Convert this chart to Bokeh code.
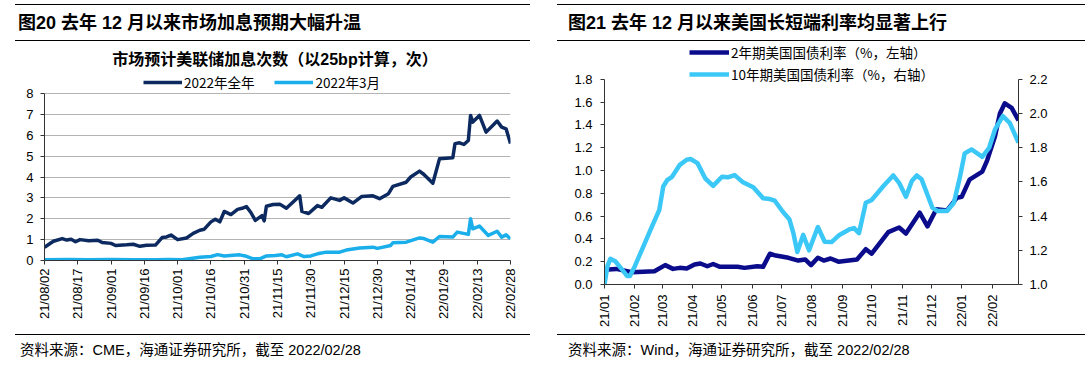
import math
import pandas as pd
from bokeh.plotting import figure
from bokeh.models import (Range1d, LinearAxis, FixedTicker, DatetimeTickFormatter,
                          NumeralTickFormatter, Legend, LegendItem, ColumnDataSource, Div)
from bokeh.layouts import row, column
from bokeh.embed import file_html
from bokeh.resources import INLINE
from bokeh.core.properties import value

# ---------------- data: left chart (CME implied hikes) ----------------
L_TITLE = "图20 去年 12 月以来市场加息预期大幅升温"
L_SUB = "市场预计美联储加息次数（以25bp计算，次）"
L_SOURCE = "资料来源：CME，海通证券研究所，截至 2022/02/28"
L_NAMES = ["2022年全年", "2022年3月"]

L_DATES_ALL = ["2021-08-02", "2021-08-06", "2021-08-10", "2021-08-12", "2021-08-14", "2021-08-16",
               "2021-08-18", "2021-08-22", "2021-08-26", "2021-08-28", "2021-09-01", "2021-09-03",
               "2021-09-08", "2021-09-11", "2021-09-14", "2021-09-17", "2021-09-21", "2021-09-24",
               "2021-09-26", "2021-09-28", "2021-10-01", "2021-10-05", "2021-10-08", "2021-10-11",
               "2021-10-13", "2021-10-16", "2021-10-18", "2021-10-20", "2021-10-22", "2021-10-25",
               "2021-10-28", "2021-10-30", "2021-11-01", "2021-11-03", "2021-11-05", "2021-11-08",
               "2021-11-09", "2021-11-10", "2021-11-13", "2021-11-16", "2021-11-19", "2021-11-23",
               "2021-11-25", "2021-11-26", "2021-11-29", "2021-12-03", "2021-12-05", "2021-12-09",
               "2021-12-13", "2021-12-15", "2021-12-19", "2021-12-23", "2021-12-28", "2021-12-31",
               "2022-01-04", "2022-01-06", "2022-01-12", "2022-01-14", "2022-01-18", "2022-01-20",
               "2022-01-24", "2022-01-27", "2022-02-02", "2022-02-03", "2022-02-05", "2022-02-07",
               "2022-02-09", "2022-02-10", "2022-02-11", "2022-02-14", "2022-02-17", "2022-02-22",
               "2022-02-24", "2022-02-26", "2022-02-28"]
L_ALL = [0.63, 0.92, 1.05, 0.98, 1.02, 0.90, 1.00, 0.95, 0.97, 0.86, 0.82, 0.72,
         0.75, 0.78, 0.68, 0.73, 0.74, 1.10, 1.13, 1.22, 1.00, 1.08, 1.30, 1.45,
         1.50, 1.85, 1.98, 1.85, 2.35, 2.20, 2.45, 2.50, 2.58, 2.30, 1.92, 2.15,
         1.90, 2.60, 2.68, 2.70, 2.50, 2.90, 3.10, 2.35, 2.25, 2.63, 2.55, 3.00,
         2.88, 3.00, 2.75, 3.07, 3.10, 2.96, 3.20, 3.55, 3.75, 4.00, 4.28, 4.12,
         3.70, 4.87, 4.92, 5.60, 5.64, 5.56, 5.75, 6.95, 6.63, 6.95, 6.15, 6.68,
         6.39, 6.31, 5.60]

L_DATES_MAR = ["2021-08-02", "2021-08-12", "2021-08-22", "2021-09-01", "2021-09-11", "2021-09-21",
               "2021-09-27", "2021-10-03", "2021-10-07", "2021-10-11", "2021-10-16", "2021-10-19",
               "2021-10-22", "2021-10-26", "2021-10-29", "2021-11-01", "2021-11-04", "2021-11-07",
               "2021-11-10", "2021-11-14", "2021-11-17", "2021-11-19", "2021-11-24", "2021-11-27",
               "2021-11-30", "2021-12-03", "2021-12-07", "2021-12-13", "2021-12-16", "2021-12-22",
               "2021-12-28", "2021-12-30", "2022-01-05", "2022-01-06", "2022-01-12", "2022-01-18",
               "2022-01-20", "2022-01-24", "2022-01-27", "2022-02-02", "2022-02-04", "2022-02-09",
               "2022-02-10", "2022-02-11", "2022-02-14", "2022-02-18", "2022-02-22", "2022-02-24",
               "2022-02-26", "2022-02-28"]
L_MAR = [0.04, 0.05, 0.04, 0.05, 0.04, 0.03, 0.05, 0.04, 0.10, 0.16, 0.19, 0.28,
         0.22, 0.25, 0.27, 0.20, 0.08, 0.08, 0.22, 0.24, 0.27, 0.18, 0.32, 0.19,
         0.22, 0.32, 0.40, 0.40, 0.50, 0.60, 0.64, 0.58, 0.72, 0.85, 0.88, 1.08,
         1.05, 0.88, 1.15, 1.12, 1.36, 1.25, 2.00, 1.52, 1.65, 1.20, 1.40, 1.12,
         1.23, 1.04]

L_XTICKS = ["2021-08-02", "2021-08-17", "2021-09-01", "2021-09-16", "2021-10-01", "2021-10-16",
            "2021-10-31", "2021-11-15", "2021-11-30", "2021-12-15", "2021-12-30", "2022-01-14",
            "2022-01-29", "2022-02-13", "2022-02-28"]
L_YTICKS = [0, 1, 2, 3, 4, 5, 6, 7, 8]

# ---------------- data: right chart (US Treasury yields) ----------------
R_TITLE = "图21 去年 12 月以来美国长短端利率均显著上行"
R_SOURCE = "资料来源：Wind，海通证券研究所，截至 2022/02/28"
R_NAMES = ["2年期美国国债利率（%，左轴）", "10年期美国国债利率（%，右轴）"]

R_DATES_2Y = ["2021-01-01", "2021-01-13", "2021-01-29", "2021-02-21", "2021-03-04", "2021-03-12",
              "2021-03-19", "2021-03-26", "2021-04-03", "2021-04-09", "2021-04-16", "2021-04-22",
              "2021-04-29", "2021-05-17", "2021-05-24", "2021-06-06", "2021-06-12", "2021-06-19",
              "2021-06-25", "2021-07-08", "2021-07-18", "2021-07-25", "2021-07-31", "2021-08-07",
              "2021-08-13", "2021-08-20", "2021-08-28", "2021-09-16", "2021-09-25", "2021-10-01",
              "2021-10-18", "2021-10-29", "2021-11-05", "2021-11-19", "2021-11-27", "2021-12-06",
              "2021-12-17", "2021-12-27", "2022-01-01", "2022-01-09", "2022-01-22", "2022-01-27",
              "2022-02-04", "2022-02-09", "2022-02-14", "2022-02-21", "2022-02-28"]
R_2Y = [0.13, 0.137, 0.108, 0.117, 0.17, 0.137, 0.146, 0.14, 0.175, 0.184, 0.16, 0.18,
        0.155, 0.155, 0.146, 0.16, 0.155, 0.27, 0.254, 0.234, 0.21, 0.22, 0.17, 0.234,
        0.21, 0.228, 0.20, 0.22, 0.31, 0.27, 0.46, 0.50, 0.447, 0.63, 0.51, 0.66,
        0.65, 0.76, 0.77, 0.92, 0.99, 1.09, 1.30, 1.50, 1.59, 1.55, 1.44]

R_DATES_10Y = ["2021-01-01", "2021-01-04", "2021-01-07", "2021-01-12", "2021-01-19", "2021-01-24",
               "2021-01-27", "2021-02-01", "2021-02-08", "2021-02-17", "2021-02-26", "2021-03-02",
               "2021-03-06", "2021-03-11", "2021-03-19", "2021-03-26", "2021-03-30", "2021-04-06",
               "2021-04-14", "2021-04-22", "2021-05-01", "2021-05-07", "2021-05-14", "2021-05-22",
               "2021-06-02", "2021-06-12", "2021-06-19", "2021-06-24", "2021-07-02", "2021-07-09",
               "2021-07-13", "2021-07-17", "2021-07-23", "2021-07-29", "2021-08-07", "2021-08-14",
               "2021-08-21", "2021-08-29", "2021-09-08", "2021-09-13", "2021-09-18", "2021-09-25",
               "2021-10-01", "2021-10-13", "2021-10-23", "2021-10-29", "2021-11-05", "2021-11-11",
               "2021-11-16", "2021-11-21", "2021-12-02", "2021-12-07", "2021-12-17", "2021-12-24",
               "2021-12-30", "2022-01-04", "2022-01-11", "2022-01-22", "2022-01-29", "2022-02-04",
               "2022-02-12", "2022-02-19", "2022-02-28"]
R_10Y = [1.00, 1.107, 1.15, 1.136, 1.087, 1.05, 1.05, 1.107, 1.20, 1.32, 1.437, 1.573,
         1.61, 1.63, 1.70, 1.73, 1.734, 1.71, 1.62, 1.577, 1.63, 1.627, 1.64, 1.60,
         1.569, 1.505, 1.50, 1.49, 1.427, 1.38, 1.30, 1.19, 1.29, 1.20, 1.336, 1.25,
         1.248, 1.29, 1.322, 1.33, 1.30, 1.478, 1.494, 1.576, 1.638, 1.595, 1.513, 1.605,
         1.638, 1.615, 1.449, 1.43, 1.43, 1.478, 1.624, 1.767, 1.79, 1.747, 1.80, 1.907,
         1.985, 1.946, 1.83]

R_XTICKS = ["2021-01-01", "2021-02-01", "2021-03-01", "2021-04-01", "2021-05-01", "2021-06-01",
            "2021-07-01", "2021-08-01", "2021-09-01", "2021-10-01", "2021-11-01", "2021-12-01",
            "2022-01-01", "2022-02-01"]
R_LTICKS = [0.0, 0.2, 0.4, 0.6, 0.8, 1.0, 1.2, 1.4, 1.6, 1.8]
R_RTICKS = [1.0, 1.2, 1.4, 1.6, 1.8, 2.0, 2.2]

# ---------------- styling ----------------
CJK = "Noto Sans CJK SC"
LAT = "Liberation Sans"
HTML_FONT = "'Liberation Sans','Noto Sans CJK SC',sans-serif"


def ms(s):
    return pd.Timestamp(s).value / 1e6


def rule_html(x0, width, top, thick):
    return (f'<div style="position:absolute;left:{x0}px;top:{top}px;width:{width}px;'
            f'height:0;border-top:{thick}px solid #000;"></div>')


def text_html(x0, top, h, text, size, bold=False, width=None, align="left"):
    w = f"width:{width}px;" if width else ""
    return (f'<div style="position:absolute;left:{x0}px;top:{top}px;height:{h}px;'
            f'line-height:{h}px;{w}text-align:{align};white-space:nowrap;color:#000;'
            f'font-family:{HTML_FONT};font-size:{size}px;'
            f'font-weight:{"bold" if bold else "normal"};">{text}</div>')


def box_div(width, height, inner):
    html = (f'<div style="position:relative;width:{width}px;height:{height}px;overflow:hidden;">'
            + "".join(inner) + "</div>")
    return Div(text=html, width=width, height=height, margin=0)


def style_axis(ax, standoff, tick_out=4):
    ax.axis_line_color = "#333333"
    ax.axis_line_width = 1
    ax.major_tick_line_color = "#333333"
    ax.major_tick_out = tick_out
    ax.major_tick_in = 0
    ax.minor_tick_out = 0
    ax.minor_tick_in = 0
    ax.major_label_text_font = LAT
    ax.major_label_text_font_size = "13px"
    ax.major_label_text_color = "#000000"
    ax.major_label_standoff = standoff


def date_fmt(f):
    return DatetimeTickFormatter(days=f, months=f, years=f, hours=f, hourmin=f, minutes=f,
                                 minsec=f, seconds=f, milliseconds=f, microseconds=f)


def make_legend(items, orientation, loc, spacing, glyph_w):
    return Legend(items=items, orientation=orientation, location=loc,
                  padding=0, margin=0, spacing=spacing, glyph_width=glyph_w, glyph_height=20,
                  label_height=20, label_standoff=2, border_line_color=None,
                  background_fill_alpha=0.0, label_text_font=CJK,
                  label_text_font_size="13.5px", label_text_color="#000000")


# ---------------- left chart ----------------
# layout (page pixels): column width 545; frame x 44..510, y 70..260 (value 8 at y=93)
LW = 545
L_HEAD, L_FOOT = 68, 34
L_FIG_H = 365 - L_HEAD - L_FOOT - 1
L_FT, L_FB, L_Y8 = 70, 260, 93
l_ymax = L_YTICKS[-1] * (L_FB - L_FT) / (L_FB - L_Y8)

p1 = figure(width=LW, height=L_FIG_H, x_axis_type="datetime",
            x_range=Range1d(ms(L_XTICKS[0]), ms(L_XTICKS[-1])), y_range=Range1d(0, l_ymax),
            output_backend="svg", toolbar_location=None,
            min_border_left=44, min_border_right=LW - 510,
            min_border_top=L_FT - L_HEAD, min_border_bottom=L_HEAD + L_FIG_H - L_FB)
p1.outline_line_color = None
p1.xgrid.visible = False
p1.ygrid.grid_line_color = "#b4b4b4"
p1.ygrid.grid_line_width = 1
p1.yaxis.ticker = FixedTicker(ticks=L_YTICKS)
p1.yaxis.bounds = (L_YTICKS[0], L_YTICKS[-1])
style_axis(p1.yaxis[0], 7)
p1.xaxis.ticker = FixedTicker(ticks=[ms(t) for t in L_XTICKS])
p1.xaxis.formatter = date_fmt("%y/%m/%d")
p1.xaxis.major_label_orientation = math.pi / 2
style_axis(p1.xaxis[0], 4)

s_all = ColumnDataSource(dict(x=pd.to_datetime(L_DATES_ALL), y=L_ALL))
s_mar = ColumnDataSource(dict(x=pd.to_datetime(L_DATES_MAR), y=L_MAR))
r_mar = p1.line("x", "y", source=s_mar, line_color="#1aaeea", line_width=3.5, line_join="round")
r_all = p1.line("x", "y", source=s_all, line_color="#0c2a60", line_width=3.5, line_join="round")

leg1 = make_legend([LegendItem(label=value(L_NAMES[0]), renderers=[r_all]),
                    LegendItem(label=value(L_NAMES[1]), renderers=[r_mar])],
                   "horizontal", (143 - 44, L_FB - 92), 20, 39)
p1.add_layout(leg1)

head1 = box_div(LW, L_HEAD, [rule_html(15, 515, 4, 1.5),
                             text_html(18, 11, 24, L_TITLE, 18, bold=True),
                             rule_html(15, 515, 40, 1.5),
                             text_html(25, 49, 22, L_SUB, 16, bold=True, width=500,
                                       align="center")])
foot1 = box_div(LW, L_FOOT, [rule_html(15, 515, 4, 1.2),
                             text_html(20, 9, 22, L_SOURCE, 14.5)])

# ---------------- right chart ----------------
# layout (page pixels): column x 545..1088; frame x 604..1018, y 43..285 (1.8 / 2.2 at y=79)
RX0, RW = 545, 543
R_HEAD, R_FOOT = 43, 34
R_FIG_H = 365 - R_HEAD - R_FOOT - 1
R_FT, R_FB, R_YTOP = 43, 285, 79
r_scale = (R_FB - R_FT) / (R_FB - R_YTOP)
r_lmax = R_LTICKS[0] + (R_LTICKS[-1] - R_LTICKS[0]) * r_scale
r_rmax = R_RTICKS[0] + (R_RTICKS[-1] - R_RTICKS[0]) * r_scale

p2 = figure(width=RW, height=R_FIG_H, x_axis_type="datetime",
            x_range=Range1d(ms(R_XTICKS[0]), ms("2022-02-28")),
            y_range=Range1d(R_LTICKS[0], r_lmax),
            output_backend="svg", toolbar_location=None,
            min_border_left=604 - RX0, min_border_right=RX0 + RW - 1018,
            min_border_top=R_FT - R_HEAD, min_border_bottom=R_HEAD + R_FIG_H - R_FB)
p2.outline_line_color = None
p2.xgrid.visible = False
p2.ygrid.visible = False
p2.extra_y_ranges = {"r": Range1d(R_RTICKS[0], r_rmax)}
p2.yaxis.ticker = FixedTicker(ticks=R_LTICKS)
p2.yaxis.formatter = NumeralTickFormatter(format="0.0")
p2.yaxis.bounds = (R_LTICKS[0], R_LTICKS[-1])
style_axis(p2.yaxis[0], 8)
raxis = LinearAxis(y_range_name="r", ticker=FixedTicker(ticks=R_RTICKS),
                   formatter=NumeralTickFormatter(format="0.0"),
                   bounds=(R_RTICKS[0], R_RTICKS[-1]))
style_axis(raxis, 7)
p2.add_layout(raxis, "right")
p2.xaxis.ticker = FixedTicker(ticks=[ms(t) for t in R_XTICKS])
p2.xaxis.formatter = date_fmt("%y/%m")
p2.xaxis.major_label_orientation = math.pi / 2
style_axis(p2.xaxis[0], 6)

s_2y = ColumnDataSource(dict(x=pd.to_datetime(R_DATES_2Y), y=R_2Y))
s_10y = ColumnDataSource(dict(x=pd.to_datetime(R_DATES_10Y), y=R_10Y))
r_2y = p2.line("x", "y", source=s_2y, line_color="#0b0c8c", line_width=4.5, line_join="round")
r_10y = p2.line("x", "y", source=s_10y, y_range_name="r", line_color="#3cc8f7", line_width=4.5,
                line_join="round")

leg2 = make_legend([LegendItem(label=value(R_NAMES[0]), renderers=[r_2y]),
                    LegendItem(label=value(R_NAMES[1]), renderers=[r_10y])],
                   "vertical", (689 - 604, R_FB - 85), 2, 40)
p2.add_layout(leg2)

head2 = box_div(RW, R_HEAD, [rule_html(12, 528, 4, 1.5),
                             text_html(23, 11, 24, R_TITLE, 18, bold=True),
                             rule_html(12, 528, 40, 1.5)])
foot2 = box_div(RW, R_FOOT, [rule_html(12, 528, 4, 1.2),
                             text_html(23, 9, 22, R_SOURCE, 14.5)])

layout = row(column(head1, p1, foot1, spacing=0), column(head2, p2, foot2, spacing=0), spacing=0)
open("out.html", "w").write(file_html(layout, INLINE))
